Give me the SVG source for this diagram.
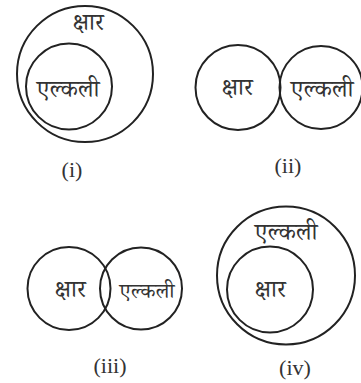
<svg xmlns="http://www.w3.org/2000/svg" width="361" height="383" viewBox="0 0 361 383">
<style>
.c{fill:none;stroke:#222;stroke-width:2}
.t{font-family:"Noto Serif Devanagari","Noto Sans Devanagari","Noto Sans",sans-serif;font-size:24px;fill:#333;text-anchor:middle}
.s{font-size:21px}
.l{font-family:"Liberation Serif",serif;font-size:22px;fill:#333;text-anchor:middle}
</style>
<rect width="361" height="383" fill="#fff"/>
<g id="d1">
<circle class="c" cx="85" cy="74" r="68"/>
<circle class="c" cx="69" cy="86.5" r="43"/>
<text class="t" x="88" y="30">क्षार</text>
<text class="t" x="68" y="97">एल्कली</text>
<text class="l" x="72" y="177">(i)</text>
</g>
<g id="d2">
<circle class="c" cx="238" cy="87.5" r="42.5"/>
<circle class="c" cx="321" cy="87.5" r="41.5"/>
<text class="t" x="237" y="95">क्षार</text>
<text class="t" x="322" y="97">एल्कली</text>
<text class="l" x="288" y="173">(ii)</text>
</g>
<g id="d3">
<circle class="c" cx="69" cy="288.5" r="41.5"/>
<circle class="c" cx="141" cy="288.5" r="41"/>
<text class="t" x="70" y="297">क्षार</text>
<text class="t s" x="147" y="298">एल्कली</text>
<text class="l" x="110" y="373">(iii)</text>
</g>
<g id="d4">
<circle class="c" cx="286" cy="275.5" r="69"/>
<circle class="c" cx="270" cy="289.5" r="43"/>
<text class="t" x="286" y="240">एल्कली</text>
<text class="t" x="270" y="297">क्षार</text>
<text class="l" x="295" y="375">(iv)</text>
</g>
</svg>
